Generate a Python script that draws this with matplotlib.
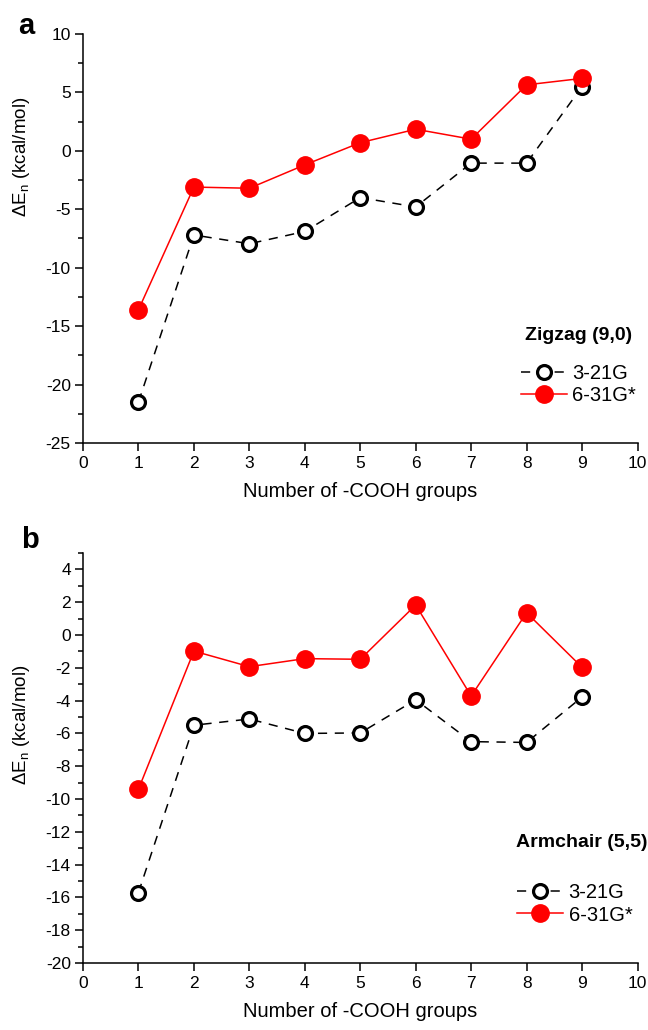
import matplotlib
matplotlib.use("Agg")
import matplotlib.pyplot as plt
from matplotlib.ticker import MultipleLocator

plt.rcParams['font.family'] = ['Liberation Sans', 'DejaVu Sans']
plt.rcParams['mathtext.fontset'] = 'custom'
plt.rcParams['mathtext.rm'] = 'Liberation Sans'
plt.rcParams['axes.unicode_minus'] = False

n_groups = [1, 2, 3, 4, 5, 6, 7, 8, 9]

# panel a - zigzag (9,0)
zz_321g = [-21.5, -7.2, -7.95, -6.9, -4.0, -4.8, -1.05, -1.05, 5.5]
zz_631g = [-13.6, -3.1, -3.2, -1.2, 0.7, 1.85, 1.0, 5.65, 6.2]

# panel b - armchair (5,5)
ac_321g = [-15.7, -5.5, -5.12, -6.0, -5.97, -3.95, -6.5, -6.55, -3.78]
ac_631g = [-9.4, -0.98, -1.93, -1.44, -1.48, 1.83, -3.72, 1.36, -1.97]

fig = plt.figure(figsize=(6.48, 10.30), dpi=100)
ax_a = fig.add_axes([0.1281, 0.5699, 0.8557, 0.3971])
ax_b = fig.add_axes([0.1281, 0.0650, 0.8557, 0.3981])


def draw(ax, y1, y2, ylim, major, minor, title, title_xy, leg_xy, ylab_y):
    ax.plot(n_groups, y1, color='black', lw=1.1, dashes=(6, 5),
            marker='o', ms=10, mfc='white', mec='black', mew=2.3,
            label='3-21G', zorder=2)
    ax.plot(n_groups, y2, color='red', lw=1.1, marker='o', ms=12.5,
            mfc='red', mec='red', label='6-31G*', zorder=3)
    ax.set_xlim(0, 10)
    ax.set_ylim(*ylim)
    ax.xaxis.set_major_locator(MultipleLocator(1))
    ax.yaxis.set_major_locator(MultipleLocator(major))
    ax.yaxis.set_minor_locator(MultipleLocator(minor))
    for s in ['top', 'right']:
        ax.spines[s].set_visible(False)
    for s in ['left', 'bottom']:
        ax.spines[s].set_linewidth(1.1)
    ax.tick_params(axis='both', which='major', direction='out', width=1.1,
                   labelsize=12.5)
    ax.tick_params(axis='x', which='major', length=5.5, pad=4)
    ax.tick_params(axis='y', which='major', length=5.8, pad=3)
    ax.tick_params(axis='y', which='minor', direction='out', width=1.1,
                   length=3.6)
    ax.set_xlabel('Number of -COOH groups', fontsize=14.5, labelpad=8)
    ax.set_ylabel(r'$\Delta$E$_{\mathregular{n}}$ (kcal/mol)', fontsize=13.5)
    ax.yaxis.set_label_coords(-0.092, ylab_y)
    ax.text(title_xy[0], title_xy[1], title, transform=ax.transAxes,
            fontsize=14, fontweight='bold', ha='center', va='center')
    ax.legend(loc='center left', bbox_to_anchor=leg_xy, frameon=False,
              fontsize=14.5, handlelength=2.3, handletextpad=0.25,
              labelspacing=0.15, borderpad=0, borderaxespad=0)


draw(ax_a, zz_321g, zz_631g, (-25, 10), 5, 2.5, 'Zigzag (9,0)',
     (0.893, 0.264), (0.790, 0.143), 0.70)
draw(ax_b, ac_321g, ac_631g, (-20, 5), 2, 1, 'Armchair (5,5)',
     (0.90, 0.295), (0.783, 0.144), 0.58)

fig.text(26 / 648, 1 - 26 / 1030, 'a', fontsize=21, fontweight='bold',
         ha='center', va='center')
fig.text(30 / 648, 1 - 540 / 1030, 'b', fontsize=21, fontweight='bold',
         ha='center', va='center')

fig.savefig('out.png', dpi=100)
